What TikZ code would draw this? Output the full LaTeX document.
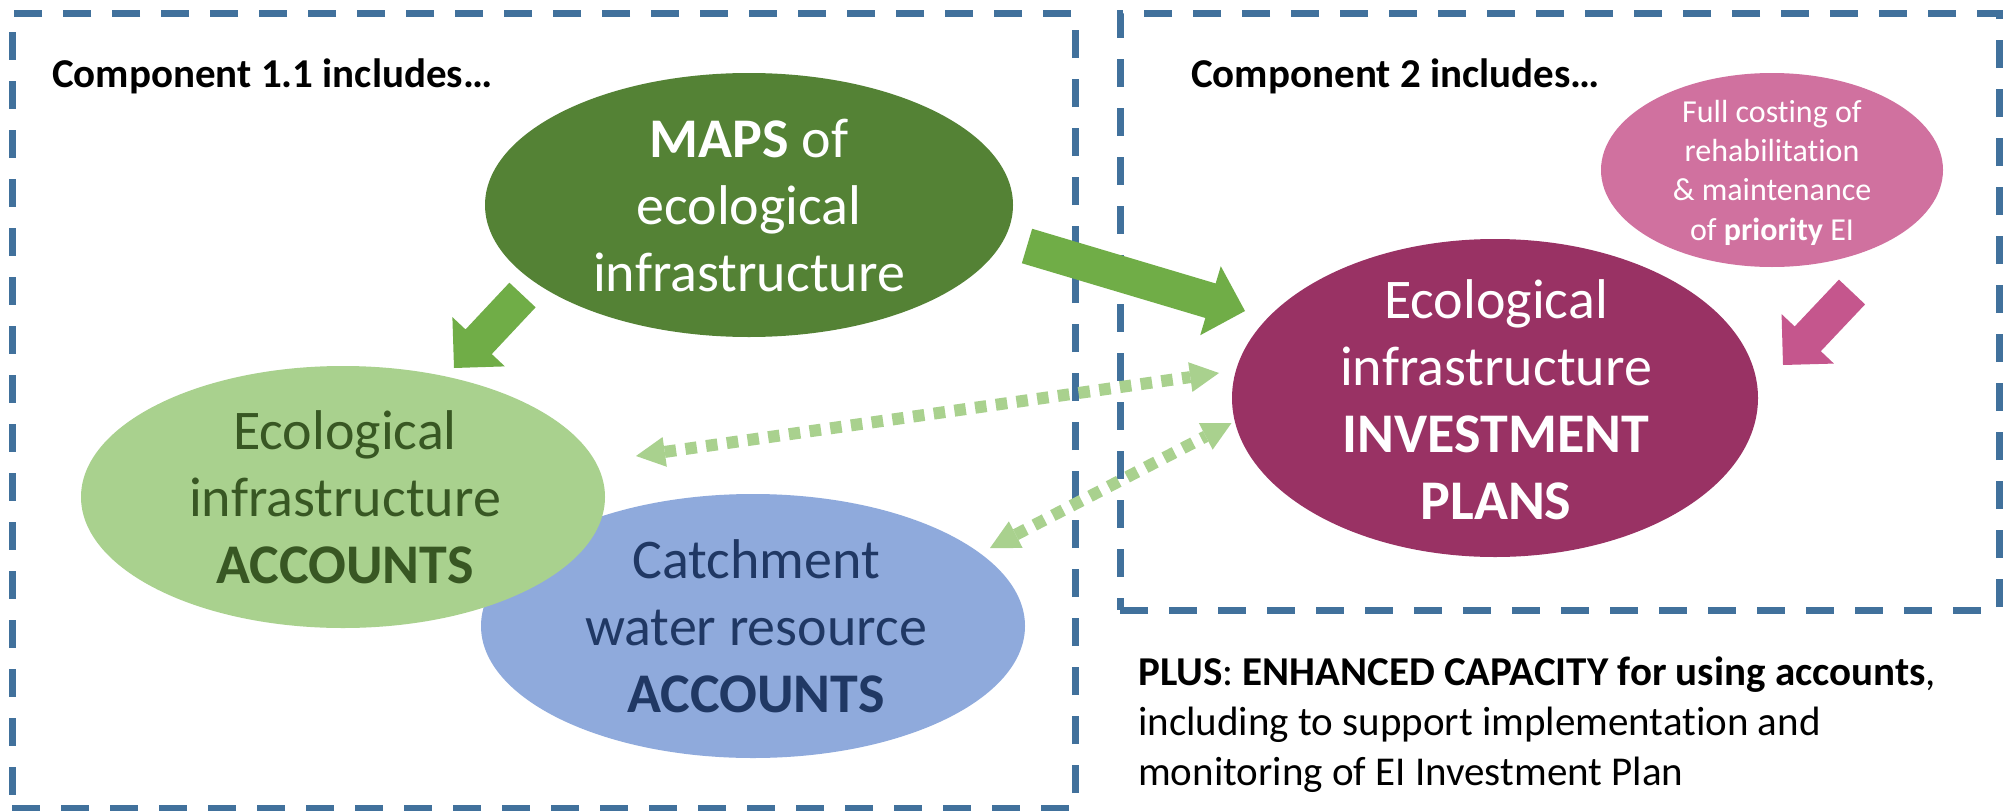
\documentclass[tikz,border=0pt]{standalone}
\usepackage{fontspec}
\setmainfont{Carlito}[Ligatures={NoCommon}]
\usetikzlibrary{shapes.geometric,calc,arrows.meta}
\definecolor{boxblue}{HTML}{41719C}
\definecolor{mapsgreen}{HTML}{548235}
\definecolor{lightgreen}{HTML}{A9D18E}
\definecolor{arrowgreen}{HTML}{70AD47}
\definecolor{waterblue}{HTML}{8FAADC}
\definecolor{plum}{HTML}{993264}
\definecolor{pinkfill}{HTML}{D0719F}
\definecolor{pinkarrow}{HTML}{C5568D}
\definecolor{darkgreentext}{HTML}{385723}
\definecolor{darkbluetext}{HTML}{203864}
% block arrow: #1 colour, #2 tail coordinate, #3 tip coordinate, #4 name prefix
\newcommand\blockarr[4]{%
  \coordinate (#4n) at ($(#3)!36pt!(#2)$);
  \fill[#1] ($(#2)!18pt!90:(#3)$) -- ($(#4n)!18pt!90:(#3)$) -- ($(#4n)!36pt!90:(#3)$)
    -- (#3) -- ($(#4n)!36pt!-90:(#3)$) -- ($(#4n)!18pt!-90:(#3)$) -- ($(#2)!18pt!-90:(#3)$) -- cycle;
}
\tikzset{
  compbox/.style={draw=boxblue, line width=7pt, dash pattern=on 28pt off 21pt, inner sep=0, outer sep=0},
  blob/.style={ellipse, inner sep=0, outer sep=0, draw=none},
  txt/.style={inner sep=0, outer sep=0, align=center, anchor=base},
  bigtxt/.style={txt, font=\fontsize{56}{67}\selectfont},
  dotarrow/.style={draw=lightgreen, line width=12pt, dash pattern=on 11.5pt off 9.4pt,
    {Triangle[width=30pt,length=29pt,line width=0pt]}-{Triangle[width=30pt,length=29pt,line width=0pt]}},
}
\begin{document}
\begin{tikzpicture}[x=1pt,y=-1pt]
\useasboundingbox (0,0) rectangle (2008,811);
\fill[white] (0,0) rectangle (2008,811);
% component boxes
\node[compbox, minimum width=1063pt, minimum height=795pt] (box1) at (543.5,410.5) {};
\node[compbox, minimum width=879pt, minimum height=597pt] (box2) at (1559.5,311.5) {};
\node[anchor=base west, inner sep=0, font=\fontsize{41}{49}\selectfont\bfseries] (head1) at (52,87) {Component 1.1 includes…};
\node[anchor=base west, inner sep=0, font=\fontsize{41}{49}\selectfont\bfseries] (head2) at (1191,87) {Component 2 includes…};
% ellipses
\node[blob, fill=mapsgreen, minimum width=528pt, minimum height=264pt] (maps) at (749,205) {};
\node[blob, fill=waterblue, minimum width=544pt, minimum height=264pt] (water) at (753,626) {};
\node[blob, fill=lightgreen, minimum width=524pt, minimum height=262pt] (eiacc) at (343,497) {};
\node[blob, fill=plum, minimum width=526pt, minimum height=318pt] (invest) at (1495,398) {};
\node[blob, fill=pinkfill, minimum width=342pt, minimum height=194pt] (costing) at (1772,170) {};
% texts (anchor base = baseline of the last line)
\node[bigtxt, white] (mapstxt) at (749,291) {\textbf{MAPS} of\\ecological\\infrastructure};
\node[bigtxt, darkgreentext] (eiacctxt) at (345,583) {Ecological\\infrastructure\\\textbf{ACCOUNTS}};
\node[bigtxt, darkbluetext] (watertxt) at (756,712) {Catchment\\water resource\\\textbf{ACCOUNTS}};
\node[bigtxt, white] (investtxt) at (1496,519) {Ecological\\infrastructure\\\textbf{INVESTMENT}\\\textbf{PLANS}};
\node[txt, white, font=\fontsize{32}{39.3}\selectfont] (costingtxt) at (1772,240) {Full costing of\\rehabilitation\\\& maintenance\\of \textbf{priority} EI};
\node[anchor=base west, inner sep=0, align=left, font=\fontsize{41}{50}\selectfont] (plus) at (1138,785)
  {\textbf{PLUS}: \textbf{ENHANCED CAPACITY for using accounts},\\including to support implementation and\\monitoring of EI Investment Plan};
% block arrows
\coordinate (a1tail) at (522.5,295);
\coordinate (a1tip) at (454,368);
\coordinate (a2tail) at (1027,246);
\coordinate (a2tip) at (1245,311);
\coordinate (a3tail) at (1852,292);
\coordinate (a3tip) at (1783,365);
\blockarr{arrowgreen}{a1tail}{a1tip}{a1}
\blockarr{arrowgreen}{a2tail}{a2tip}{a2}
\blockarr{pinkarrow}{a3tail}{a3tip}{a3}
% dotted two-way arrows
\coordinate (d1a) at (636,456);
\coordinate (d1b) at (1219,373);
\coordinate (d2a) at (990,548);
\coordinate (d2b) at (1231.5,423);
\draw[dotarrow] (d1a) -- (d1b);
\draw[dotarrow] (d2a) -- (d2b);
\end{tikzpicture}
\end{document}
